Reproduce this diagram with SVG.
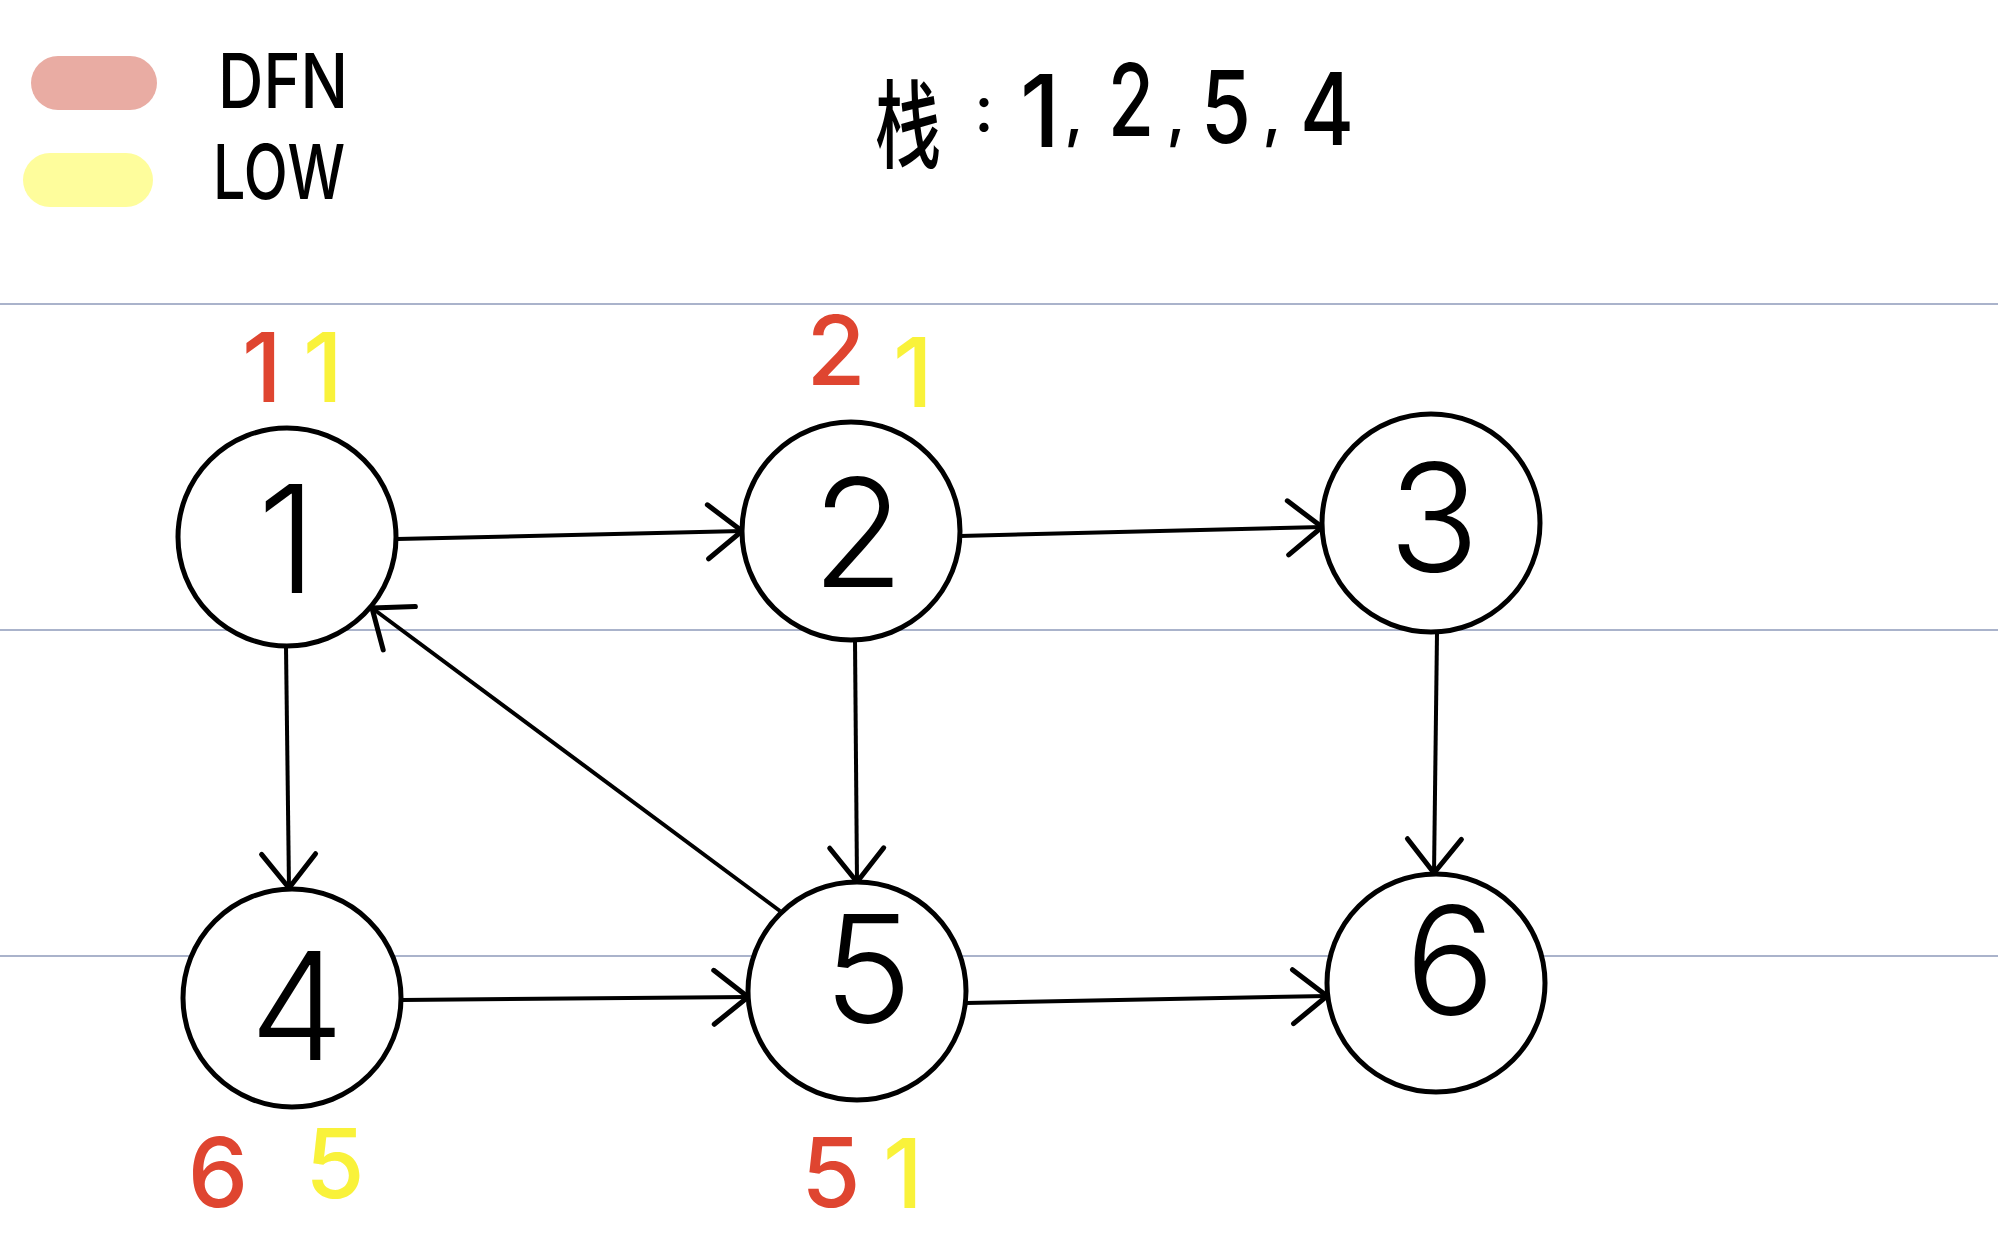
<svg xmlns="http://www.w3.org/2000/svg" width="1998" height="1258" viewBox="0 0 1998 1258">
<style>
.rule{stroke:#aab3cb;stroke-width:2}
.node circle{fill:#fff;stroke:#000;stroke-width:5}
.lbl{font-family:Inter,"Liberation Sans",sans-serif;font-weight:300;font-size:150px;fill:#000;text-anchor:middle}
.edge{stroke:#000;stroke-width:4;fill:none;marker-end:url(#arr)}
.ann{font-family:Inter,"Liberation Sans",sans-serif;font-weight:500;font-size:96px;text-anchor:middle}
.red{fill:#df4530}
.yel{fill:#f9f23a}
.hand{font-family:Inter,"Liberation Sans","Noto Sans CJK SC",sans-serif;font-weight:500;fill:#000;text-anchor:middle}
</style>
<defs>
<marker id="arr" markerUnits="userSpaceOnUse" markerWidth="100" markerHeight="100" viewBox="-50 -50 100 100" refX="0" refY="0" orient="auto" overflow="visible">
<path d="M -34 -27 L 0 0 L -34 27" fill="none" stroke="#000" stroke-width="5" stroke-linecap="round" stroke-linejoin="round"/>
</marker>
</defs>
<rect width="1998" height="1258" fill="#fff"/>
<g id="rules">
<line class="rule" x1="0" y1="304" x2="1998" y2="304"/>
<line class="rule" x1="0" y1="630" x2="1998" y2="630"/>
<line class="rule" x1="0" y1="956" x2="1998" y2="956"/>
</g>
<g id="legend">
<rect x="31" y="56" width="126" height="54" rx="27" fill="#e9aca3"/>
<rect x="23" y="153" width="130" height="54" rx="27" fill="#fefd9c"/>
<text class="hand" x="283" y="108" font-size="75" textLength="130" lengthAdjust="spacingAndGlyphs">DFN</text>
<text class="hand" x="279" y="199" font-size="75" textLength="132" lengthAdjust="spacingAndGlyphs">LOW</text>
</g>
<g id="stack">
<text class="hand" x="908" y="160" font-size="96" textLength="66" lengthAdjust="spacingAndGlyphs" font-family="'Noto Sans CJK SC',sans-serif">栈</text>
<text class="hand" x="984" y="132" font-size="64">:</text>
<text class="hand" x="1040" y="147" font-size="100" textLength="40" lengthAdjust="spacingAndGlyphs">1</text>
<text class="hand" x="1074" y="136" font-size="64">,</text>
<text class="hand" x="1131" y="136" font-size="100" textLength="46" lengthAdjust="spacingAndGlyphs">2</text>
<text class="hand" x="1176" y="136" font-size="64">,</text>
<text class="hand" x="1226" y="143" font-size="100" textLength="50" lengthAdjust="spacingAndGlyphs">5</text>
<text class="hand" x="1272" y="136" font-size="64">,</text>
<text class="hand" x="1327" y="145" font-size="100" textLength="54" lengthAdjust="spacingAndGlyphs">4</text>
</g>
<g id="connectors">
<line class="edge" x1="397" y1="539" x2="742" y2="531"/>
<line class="edge" x1="960" y1="536" x2="1322" y2="527"/>
<line class="edge" x1="286" y1="647" x2="289" y2="888"/>
<line class="edge" x1="855" y1="640" x2="857" y2="882"/>
<line class="edge" x1="1437" y1="633" x2="1434" y2="873"/>
<line class="edge" x1="402" y1="1000" x2="748" y2="997"/>
<line class="edge" x1="966" y1="1003" x2="1327" y2="996"/>
<line class="edge" x1="780" y1="911" x2="372" y2="608"/>
</g>
<g id="node1" class="node"><circle cx="287" cy="537" r="109"/><text class="lbl" x="287" y="593" font-size="158">1</text></g>
<g id="node2" class="node"><circle cx="851" cy="531" r="109"/><text class="lbl" x="858" y="587" font-size="158">2</text></g>
<g id="node3" class="node"><circle cx="1431" cy="523" r="109"/><text class="lbl" x="1434" y="572" font-size="135">3</text></g>
<g id="node4" class="node"><circle cx="292" cy="998" r="109"/><text class="lbl" x="297" y="1060" font-size="148">4</text></g>
<g id="node5" class="node"><circle cx="857" cy="991" r="109"/><text class="lbl" x="868" y="1023" font-size="98">5</text></g>
<g id="node6" class="node"><circle cx="1436" cy="983" r="109"/><text class="lbl" x="1450" y="1015" font-size="110">6</text></g>
<g id="annotations">
<text class="ann red" x="262" y="402">1</text>
<text class="ann yel" x="323" y="402">1</text>
<text class="ann red" x="836" y="385" font-size="86">2</text>
<text class="ann yel" x="913" y="407" font-size="120">1</text>
<text class="ann red" x="218" y="1207" font-size="110">6</text>
<text class="ann yel" x="335" y="1198" font-size="90">5</text>
<text class="ann red" x="831" y="1207">5</text>
<text class="ann yel" x="903" y="1208">1</text>
</g>
</svg>
